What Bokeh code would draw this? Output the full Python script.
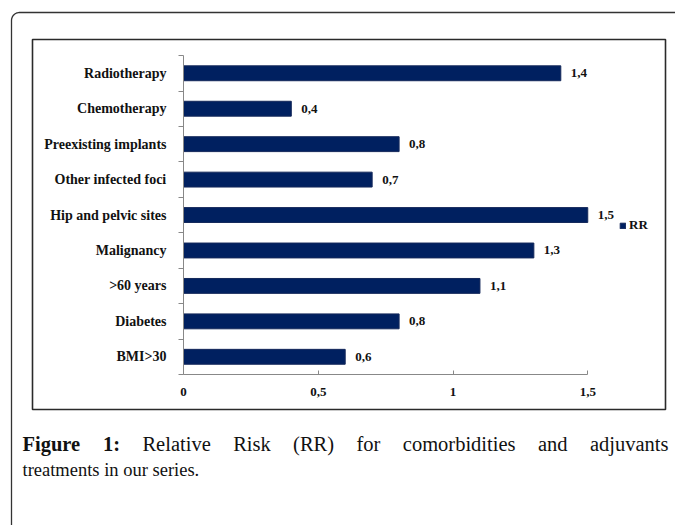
import numpy as np
from bokeh.plotting import figure
from bokeh.models import (LinearAxis, FixedTicker, Range1d, Legend, LegendItem,
                          ColumnDataSource)
from bokeh.core.properties import value
from bokeh.embed import file_html
from bokeh.resources import INLINE

# ---------------- data ----------------
categories = ["BMI>30", "Diabetes", ">60 years", "Malignancy",
              "Hip and pelvic sites", "Other infected foci",
              "Preexisting implants", "Chemotherapy", "Radiotherapy"]
rr_values = [0.6, 0.8, 1.1, 1.3, 1.5, 0.7, 0.8, 0.4, 1.4]
x_ticks = [0, 0.5, 1, 1.5]
x_tick_labels = ["0", "0,5", "1", "1,5"]
series_name = "RR"
caption_bold_words = ["Figure", "1:"]
caption_line1_words = ["Relative", "Risk", "(RR)", "for", "comorbidities", "and", "adjuvants"]
caption_line2 = "treatments in our series."

# ---------------- layout (page pixels) ----------------
W, H = 675, 525
X0_PX, X_SCALE = 183.0, 269.5      # page x of value 0, px per unit
Y0_PX, Y_SCALE = 356.3, 35.44      # page y of first category centre, px per band


def dx(px):
    return (px - X0_PX) / X_SCALE


def dy(py):
    return (Y0_PX - py) / Y_SCALE


SERIF = "Liberation Serif"
BAR = "#002060"

p = figure(width=W, height=H, output_backend="svg", toolbar_location=None,
           x_axis_type=None, y_axis_type=None, min_border=0,
           x_range=Range1d(dx(0), dx(W)),
           y_range=Range1d(dy(H), dy(0)))
p.outline_line_color = None
p.grid.visible = False
p.background_fill_color = "white"
p.border_fill_color = "white"

# outer rounded frame (only top and left edges visible)
t = np.linspace(0, np.pi / 2, 12)
fx = [11.0] + list(19 - 8 * np.cos(t)) + [700.0]
fy = [560.0] + list(20 - 8 * np.sin(t)) + [12.0]
p.line([dx(v) for v in fx], [dy(v) for v in fy], line_color="#333333", line_width=1.3)

# inner chart box
p.quad(left=[dx(32)], right=[dx(665)], top=[dy(39)], bottom=[dy(409)],
       fill_alpha=0, line_color="#2a2a2a", line_width=1.6)

idx = list(range(len(categories)))
src = ColumnDataSource(dict(
    y=idx, rr=rr_values,
    lab=[("%.1f" % v).replace(".", ",") for v in rr_values]))

bars = p.hbar(y="y", left=0, right="rr", height=0.42, source=src,
              fill_color=BAR, line_color="#14285a", line_width=1)

p.text(x="rr", y="y", text="lab", source=src, x_offset=10,
       text_baseline="middle", text_align="left", text_font=value(SERIF),
       text_font_style="bold", text_font_size="13px", text_color="#111111")

# axes
xaxis = LinearAxis(fixed_location=-0.5,
                   ticker=FixedTicker(ticks=x_ticks, minor_ticks=[]),
                   bounds=(x_ticks[0], x_ticks[-1]),
                   major_label_overrides=dict(zip(x_ticks, x_tick_labels)),
                   major_tick_in=4, major_tick_out=0,
                   minor_tick_in=0, minor_tick_out=0,
                   major_label_standoff=13,
                   axis_line_color="#888888", major_tick_line_color="#888888",
                   major_label_text_font=SERIF,
                   major_label_text_font_style="bold",
                   major_label_text_font_size="13px",
                   major_label_text_color="#111111")
p.add_layout(xaxis, "below")

yaxis = LinearAxis(fixed_location=0,
                   ticker=FixedTicker(ticks=idx,
                                      minor_ticks=[i - 0.5 for i in range(len(idx) + 1)]),
                   bounds=(-0.5, len(idx) - 0.5),
                   major_label_overrides=dict(zip(idx, categories)),
                   major_tick_in=0, major_tick_out=0,
                   minor_tick_in=0, minor_tick_out=5,
                   major_label_standoff=12,
                   axis_line_color="#888888", minor_tick_line_color="#888888",
                   major_label_text_font=SERIF,
                   major_label_text_font_style="bold",
                   major_label_text_font_size="14px",
                   major_label_text_color="#111111")
p.add_layout(yaxis, "left")

legend = Legend(items=[LegendItem(label=series_name, renderers=[bars])],
                location=(619, H - 233),
                padding=0, spacing=0, margin=0,
                glyph_width=7, glyph_height=7, label_standoff=3,
                label_height=7, label_width=10,
                border_line_color=None, background_fill_alpha=0,
                label_text_font=SERIF, label_text_font_style="bold",
                label_text_font_size="13px", label_text_color="#111111")
p.add_layout(legend)

# ---------------- caption (justified first line) ----------------
CAP1_SIZE = 20.5
CAP2_SIZE = 18.5
# Times/Liberation Serif advance widths (1/1000 em)
W_REG = {' ': 250, 'a': 444, 'b': 500, 'c': 444, 'd': 500, 'e': 444, 'f': 333,
         'i': 278, 'j': 278, 'k': 500, 'l': 278, 'm': 778, 'n': 500, 'o': 500,
         'r': 333, 's': 389, 't': 278, 'u': 500, 'v': 500, '(': 333, ')': 333,
         'R': 667, '.': 250}
W_BOLD = {'F': 611, 'i': 278, 'g': 500, 'u': 556, 'r': 444, 'e': 444, '1': 500, ':': 333}


def text_w(s, table, size):
    return sum(table.get(c, 500) for c in s) / 1000.0 * size


words1 = caption_bold_words + caption_line1_words
bold1 = [True] * len(caption_bold_words) + [False] * len(caption_line1_words)
widths1 = [text_w(w, W_BOLD if b else W_REG, CAP1_SIZE) for w, b in zip(words1, bold1)]
LINE_L, LINE_R = 22.0, 668.0
gap = (LINE_R - LINE_L - sum(widths1)) / (len(words1) - 1)
xpos = LINE_L
for w, b, wd in zip(words1, bold1, widths1):
    p.text(x=[dx(xpos)], y=[dy(443)], text=[w], text_font=value(SERIF),
           text_font_style="bold" if b else "normal",
           text_font_size="%gpx" % CAP1_SIZE, text_color="#111111",
           text_baseline="alphabetic", text_align="left")
    xpos += wd + gap
p.text(x=[dx(LINE_L)], y=[dy(469)], text=[caption_line2], text_font=value(SERIF),
       text_font_size="%gpx" % CAP2_SIZE, text_color="#111111",
       text_baseline="alphabetic", text_align="left")

open("out.html", "w").write(file_html(p, INLINE))
